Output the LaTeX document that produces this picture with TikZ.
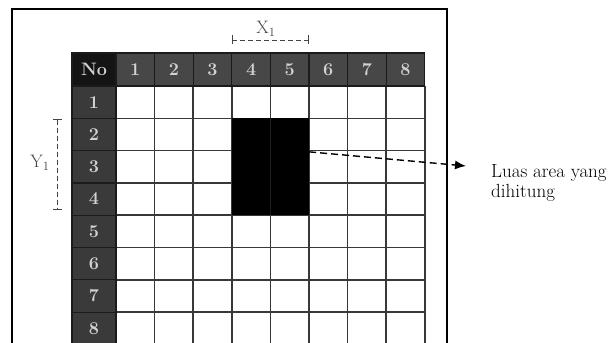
\documentclass[tikz,border=0pt]{standalone}
\usepackage{fontspec}
\usetikzlibrary{arrows.meta}
\definecolor{kopfgrau}{HTML}{474747}
\definecolor{randgrau}{HTML}{3A3A3A}
\definecolor{eckgrau}{HTML}{141414}
\definecolor{ziffer}{HTML}{D2D2D2}
\definecolor{gitter}{HTML}{383838}
\definecolor{masz}{HTML}{444444}

\tikzset{
  zelle/.style={draw=eckgrau!80!gitter, line width=1.2pt, text=ziffer, inner sep=0pt,
    minimum height=32.3pt, font=\fontsize{18}{18}\selectfont\bfseries},
  kopf/.style={zelle, fill=kopfgrau, minimum width=38.6pt, minimum height=33pt},
  rand/.style={zelle, fill=randgrau, minimum width=44pt},
  masslinie/.style={masz, line width=0.9pt, dash pattern=on 5pt off 3pt,
    {Bar[width=9pt]}-{Bar[width=9pt]}},
  pfeil/.style={-{Latex[length=11pt,width=9pt]}, line width=1.4pt, dash pattern=on 7pt off 4pt}
}

\begin{document}
\begin{tikzpicture}[x=1pt, y=-1pt]
\useasboundingbox (0,0) rectangle (609,342);
\clip (0,0) rectangle (609,342);

% Rahmen, unten offen
\draw[line width=2pt] (12,350) -- (12,9) -- (447,9) -- (447,350);

% Gitter der weissen Felder
\foreach \i in {0,...,8}
  \draw[gitter, line width=1.6pt] ({116+38.6*\i},86) -- ({116+38.6*\i},350);
\foreach \j in {0,...,8}
  \draw[gitter, line width=1.6pt] (116,{86+32.3*\j}) -- (424.8,{86+32.3*\j});

% Kopfzeile und linke Spalte
\node[kopf, fill=eckgrau, minimum width=44pt] (no) at (94,69.5) {No};
\foreach \i in {1,...,8}
  \node[kopf] (k\i) at ({116+38.6*(\i-0.5)},69.5) {\i};
\foreach \j in {1,...,8}
  \node[rand] (z\j) at (94,{86+32.3*(\j-0.5)}) {\j};

% gezaehlte Flaeche: Spalten 4-5, Zeilen 2-4
\node[fill=black, inner sep=0pt, minimum width=77.2pt, minimum height=96.9pt] (flaeche) at (270.4,166.75) {};
\draw[eckgrau!70!gitter, line width=0.8pt] (flaeche.north) -- (flaeche.south);

% Massangaben X1 und Y1
\coordinate (xa) at (231.8,40);
\coordinate (xb) at (309,40);
\draw[masslinie] (xa) -- (xb);
\node[masz, font=\fontsize{18}{18}\selectfont] (xlabel) at (266,29) {X\textsubscript{1}};
\coordinate (ya) at (57,119);
\coordinate (yb) at (57,210);
\draw[masslinie] (ya) -- (yb);
\node[masz, font=\fontsize{18}{18}\selectfont] (ylabel) at (40,163) {Y\textsubscript{1}};

% Hinweis rechts
\node[anchor=north west, align=left, inner sep=0pt, font=\fontsize{19}{20}\selectfont] (hinweis) at (491,164) {Luas area yang\\dihitung};
\coordinate (spitze) at (466,166);
\draw[pfeil] (flaeche.21) -- (spitze);

\end{tikzpicture}
\end{document}
